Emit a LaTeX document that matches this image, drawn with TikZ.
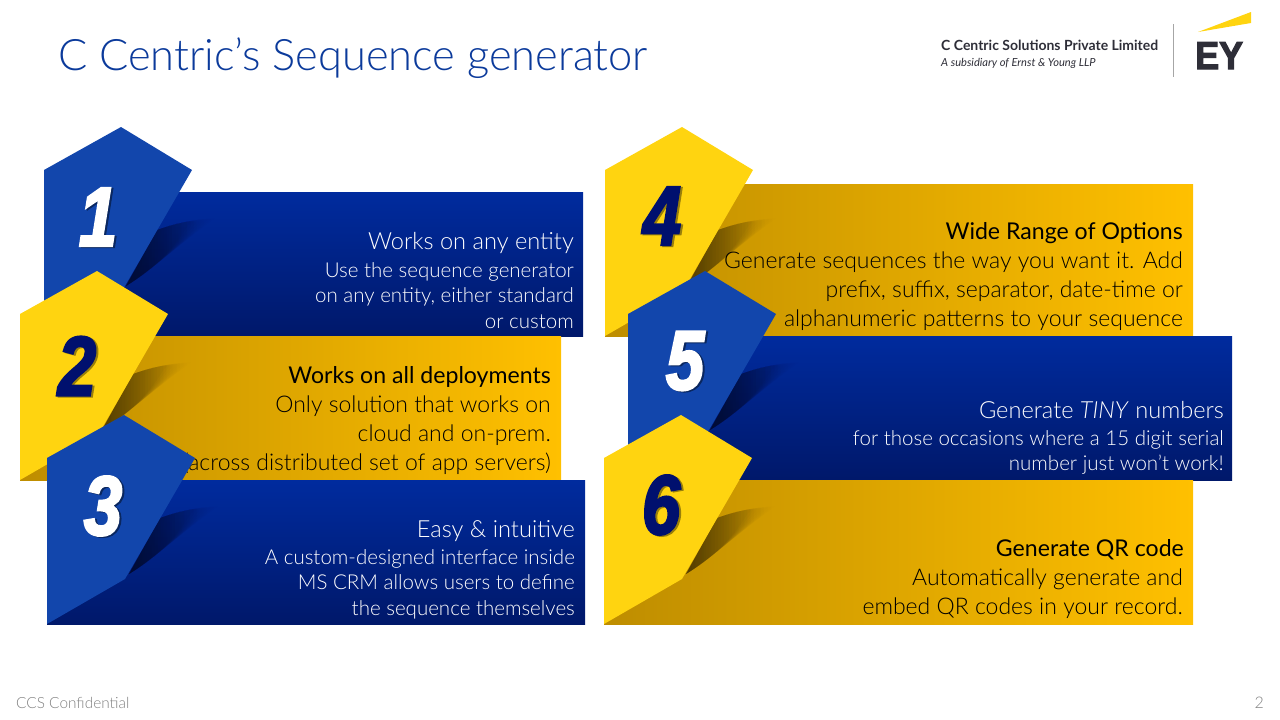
\documentclass[tikz,border=0pt]{standalone}
\usepackage{fontspec}
\usetikzlibrary{fadings}
\setmainfont{Lato Light}[ItalicFont={Lato Light Italic}]
\newfontfamily\numfont[FakeBold=3]{Liberation Sans}
\newfontfamily\logofont{Lato}
\definecolor{hexblue}{HTML}{1246AC}
\definecolor{hexgold}{HTML}{FFD410}
\definecolor{titleblue}{HTML}{0B3A9B}
\definecolor{eygrey}{HTML}{2E2E38}
\definecolor{navy}{HTML}{00106E}
\definecolor{gold1}{HTML}{BE8D00}
\definecolor{gold2}{HTML}{FFC000}
\definecolor{panelA}{HTML}{002B9E}
\definecolor{panelB}{HTML}{00186A}
\tikzfading[name=wedgefade, left color=transparent!90, right color=transparent!100]
\tikzset{
  bluepanel/.style={top color=panelA, bottom color=panelB},
  goldpanel/.style={left color=gold1, right color=gold2},
  headwhite/.style={anchor=base east, inner sep=0pt, text=white, font=\fontsize{23.6}{23}\selectfont},
  bodywhite/.style={anchor=base east, inner sep=0pt, text=white, font=\fontsize{20.5}{20}\selectfont},
  headdark/.style={anchor=base east, inner sep=0pt, text=black, font=\logofont\fontsize{23.1}{23}\selectfont},
  bodydark/.style={anchor=base east, inner sep=0pt, text=black, font=\fontsize{23}{23}\selectfont},
  numbase/.style={inner sep=0pt, xscale=0.82, transform shape, font=\numfont\bfseries\itshape\fontsize{84}{84}\selectfont},
  numwhite/.style={numbase, text=white},
  numdark/.style={numbase, text=navy},
  numshadow/.style={numbase, text=hexblue!55!black},
  numshadowgold/.style={numbase, text=hexgold!60!black},
}
% x, bottom, right, top, panel style, hex colour
\newcommand{\panelshape}[6]{
  \fill[#5] (#1,#4) rectangle (#3,#2);
  \begin{scope}[shift={(#1,#2)}]
    \foreach \k in {0,2,...,14}{
      \fill[black, path fading=wedgefade] (82,-50) -- (113,-106) .. controls (135,-114) and (155,-117) .. (172-2*\k,-118+\k/2) .. controls (142-\k,-98+\k) and (108,-66) .. (82,-50);
    }
    \fill[#6] (0,0) -- (0,-166) -- (77,-209) -- (148,-166) -- (78,-45) -- cycle;
  \end{scope}
}
\begin{document}
\begin{tikzpicture}[x=1pt, y=-1pt]
\useasboundingbox (0,0) rectangle (1280,720);

\node[anchor=base west, inner sep=0pt, text=titleblue, font=\fontsize{43.4}{44}\selectfont] (title) at (58,70) {C Centric’s Sequence generator};
\node[anchor=base west, inner sep=0pt, text=eygrey, font=\logofont\bfseries\fontsize{14}{14}\selectfont] (company) at (941,50) {C Centric Solutions Private Limited};
\node[anchor=base west, inner sep=0pt, text=eygrey, font=\logofont\itshape\fontsize{11.1}{11}\selectfont] (subsidiary) at (941,66) {A subsidiary of Ernst \& Young LLP};
\coordinate (divtop) at (1173,24);
\coordinate (divbot) at (1173,77);
\draw[black!35, line width=1pt] (divtop) -- (divbot);
\fill[hexgold] (1198,32) -- (1251,12) -- (1251,23) -- cycle;
\node[anchor=base west, inner sep=0pt, text=eygrey, xscale=0.92, transform shape, font=\numfont\bfseries\fontsize{39}{39}\selectfont] (ey) at (1195,69) {EY};

% left column
\panelshape{44}{336}{583}{192}{bluepanel}{hexblue}
\node[numshadow] (shadow1) at (100,218) {1};
\node[numwhite] (num1) at (98,217) {1};
\node[headwhite] (head1) at (574,249) {Works on any entity};
\node[bodywhite] (body1a) at (574,277) {Use the sequence generator};
\node[bodywhite] (body1b) at (574,302) {on any entity, either standard};
\node[bodywhite] (body1c) at (574,328) {or custom};

\panelshape{20}{480}{561}{336}{goldpanel}{hexgold}
\node[numshadowgold] (shadow2) at (79,367) {2};
\node[numdark] (num2) at (77,366) {2};
\node[headdark] (head2) at (551,383) {Works on all deployments};
\node[bodydark] (body2a) at (551,412) {Only solution that works on};
\node[bodydark] (body2b) at (551,441) {cloud and on-prem.};
\node[bodydark] (body2c) at (551,470) {(across distributed set of app servers)};

\panelshape{47}{624}{585}{480}{bluepanel}{hexblue}
\node[numshadow] (shadow3) at (105,507) {3};
\node[numwhite] (num3) at (103,506) {3};
\node[headwhite] (head3) at (575,537) {Easy \& intuitive};
\node[bodywhite] (body3a) at (575,564) {A custom-designed  interface inside};
\node[bodywhite] (body3b) at (575,589) {MS CRM allows users to define};
\node[bodywhite] (body3c) at (575,615) {the sequence  themselves};

% right column
\panelshape{605}{336}{1193}{184}{goldpanel}{hexgold}
\node[numshadowgold] (shadow4) at (664,217) {4};
\node[numdark] (num4) at (662,216) {4};
\node[headdark] (head4) at (1183,239) {Wide Range of Options};
\node[bodydark] (body4a) at (1183,268) {Generate sequences the way you want it. Add};
\node[bodydark] (body4b) at (1183,297) {prefix,  suffix, separator, date-time or};
\node[bodydark] (body4c) at (1183,326) {alphanumeric patterns to your sequence};

\panelshape{628}{480}{1232}{336}{bluepanel}{hexblue}
\node[numshadow] (shadow5) at (687,362) {5};
\node[numwhite] (num5) at (685,361) {5};
\node[headwhite] (head5) at (1224,418) {Generate \textit{TINY} numbers};
\node[bodywhite] (body5a) at (1224,445) {for those occasions where a 15 digit serial};
\node[bodywhite] (body5b) at (1224,470) {number just won’t work!};

\panelshape{604}{624}{1193}{480}{goldpanel}{hexgold}
\node[numshadowgold] (shadow6) at (663,506) {6};
\node[numdark] (num6) at (661,505) {6};
\node[headdark] (head6) at (1184,556) {Generate QR code};
\node[bodydark] (body6a) at (1183,585) {Automatically generate and};
\node[bodydark] (body6b) at (1183,614) {embed QR codes in your record.};

\node[anchor=base west, inner sep=0pt, text=black!50, font=\fontsize{15.4}{16}\selectfont] (footer) at (16,708) {CCS Confidential};
\node[anchor=base east, inner sep=0pt, text=black!50, font=\fontsize{16}{16}\selectfont] (pageno) at (1264,708) {2};
\end{tikzpicture}
\end{document}
